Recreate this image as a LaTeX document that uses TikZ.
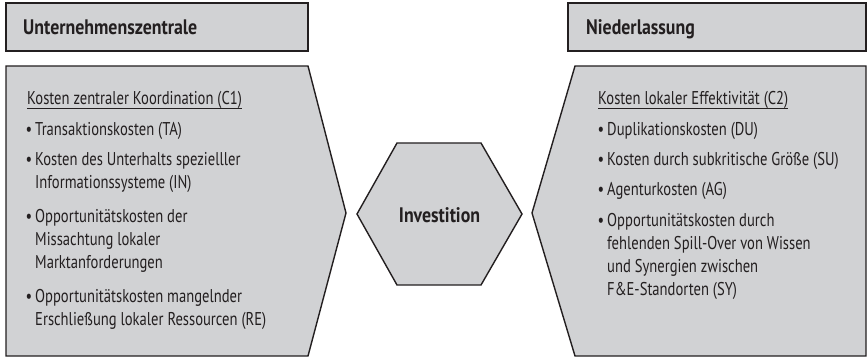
\documentclass[tikz,border=0pt]{standalone}
\usepackage{fontspec}
\setmainfont{PT Sans}[FakeStretch=0.79]
\newfontfamily\headfont{PT Sans Bold}[FakeStretch=0.85]
\definecolor{boxgray}{HTML}{D1D2D4}
\definecolor{ink}{HTML}{231F20}
\begin{document}
\begin{tikzpicture}[x=1pt,y=-1pt,
  panel/.style={fill=boxgray, draw=ink, line width=1.4pt, line join=miter},
  body/.style={anchor=base west, inner sep=0pt, align=left, text=ink,
    font=\fontsize{18.5}{23}\selectfont},
  head/.style={anchor=base west, inner sep=0pt, text=ink,
    font=\headfont\fontsize{21}{22}\selectfont},
  uline/.style={draw=ink, line width=0.8pt}]
\useasboundingbox (0,0) rectangle (867,358);
% panels
\path[panel] (6,3) rectangle (308,51);
\path[panel] (6,66) -- (308,66) -- (346,213) -- (308,356) -- (6,356) -- cycle;
\path[panel] (397,143) -- (481,143) -- (522,214) -- (481,285) -- (397,285) -- (357,214) -- cycle;
\path[panel] (575,66) -- (866,66) -- (866,356) -- (575,356) -- (532,213) -- cycle;
\path[panel] (568,3) rectangle (866,51);
% headers
\node[head] (hl) at (23,35) {Unternehmenszentrale};
\node[head] (hr) at (586,35) {Niederlassung};
\node[head, anchor=center, font=\headfont\fontsize{21}{22}\selectfont] (inv) at (439.5,215) {Investition};
% left body (base anchor = baseline of last line)
\node[body] (l0) at (27,105) {Kosten zentraler Koordination (C1)};
\draw[uline] ([yshift=-3pt]l0.base west) -- ([yshift=-3pt]l0.base east);
\node[body] (l1) at (35,136) {\llap{\textbullet\,}Transaktionskosten (TA)};
\node[body] (l2) at (35,189) {\llap{\textbullet\,}Kosten des Unterhalts spezielller\\Informationssysteme (IN)};
\node[body] (l3) at (35,268) {\llap{\textbullet\,}Opportunitätskosten der\\Missachtung lokaler\\Marktanforderungen};
\node[body] (l4) at (35,325) {\llap{\textbullet\,}Opportunitätskosten mangelnder\\Erschließung lokaler Ressourcen (RE)};
% right body
\node[body] (r0) at (598,105) {Kosten lokaler Effektivität (C2)};
\draw[uline] ([yshift=-3pt]r0.base west) -- ([yshift=-3pt]r0.base east);
\node[body] (r1) at (607,136) {\llap{\textbullet\,}Duplikationskosten (DU)};
\node[body] (r2) at (607,166) {\llap{\textbullet\,}Kosten durch subkritische Größe (SU)};
\node[body] (r3) at (607,196) {\llap{\textbullet\,}Agenturkosten (AG)};
\node[body] (r4) at (607,295) {\llap{\textbullet\,}Opportunitätskosten durch\\fehlenden Spill-Over von Wissen\\und Synergien zwischen\\F\&E-Standorten (SY)};
\end{tikzpicture}
\end{document}
